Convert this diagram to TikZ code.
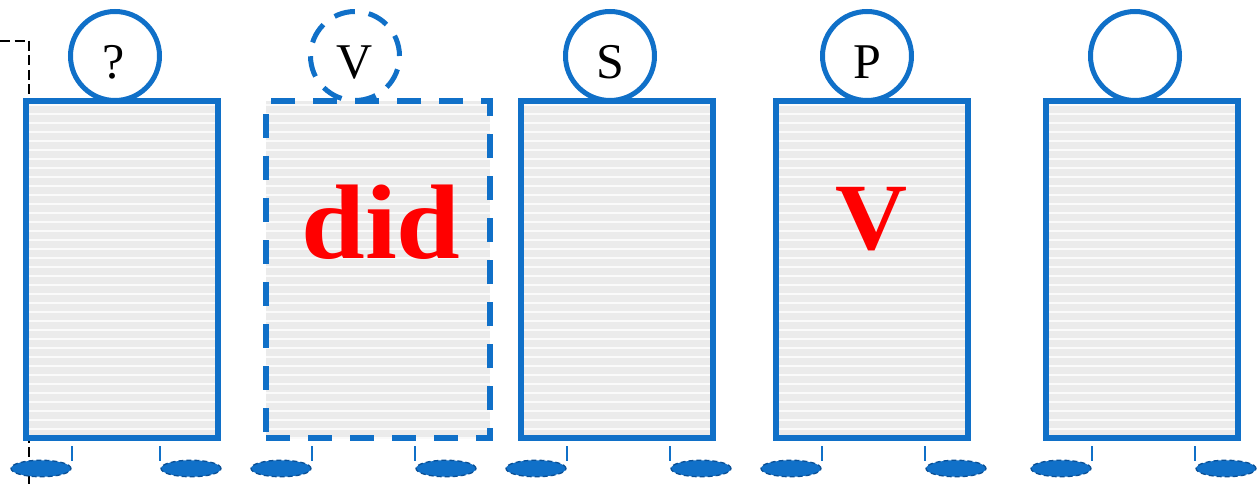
\documentclass[tikz,border=0pt]{standalone}
\usepackage{fontspec}
\setmainfont{Liberation Serif}
\newfontfamily\tms{Liberation Serif}
\usetikzlibrary{shapes.geometric}
\definecolor{bblue}{RGB}{16,112,200}
\definecolor{dblue}{RGB}{10,80,150}
\definecolor{stripegray}{RGB}{235,235,235}
\definecolor{stripelight}{RGB}{250,250,250}
\begin{document}
\begin{tikzpicture}[x=1pt,y=-1pt,
  circ/.style={circle,draw=bblue,line width=5pt,minimum size=89pt,inner sep=0pt,fill=white},
  dcirc/.style={circ,dash pattern=on 21pt off 14pt},
  stripebox/.style={rectangle,draw=bblue,line width=6pt,inner sep=0pt,minimum height=337pt,fill=stripegray,
    path picture={\foreach \k in {0,...,38}{\draw[solid,stripelight,line width=1.8pt] ([yshift=-4pt-\k*9pt]path picture bounding box.north west) -- ([yshift=-4pt-\k*9pt]path picture bounding box.north east);}}},
  dstripebox/.style={stripebox,dash pattern=on 24pt off 18pt},
  lbl/.style={font=\tms\fontsize{50}{50}\selectfont,inner sep=0pt,anchor=base},
  big/.style={text=red,inner sep=0pt,transform shape},
  foot/.style={ellipse,fill=bblue,draw=dblue,line width=1.3pt,dash pattern=on 5pt off 3pt,minimum width=60pt,minimum height=16.5pt,inner sep=0pt},
  tick/.style={draw=bblue,line width=1.8pt},
  guide/.style={draw=black,line width=1.5pt,dash pattern=on 10pt off 4.5pt}]
\useasboundingbox (0,0) rectangle (1259,484);
% dashed guide line
\coordinate (gs) at (0,41);
\coordinate (gc) at (29,41);
\coordinate (ge) at (29,490);
\draw[guide] (gs) -- (gc) -- (ge);
% circles
\node[circ] (c1) at (115,56) {};
\node[dcirc] (c2) at (355,56) {};
\node[circ] (c3) at (610,56) {};
\node[circ] (c4) at (867,56) {};
\node[circ] (c5) at (1135,56) {};
% boxes
\node[stripebox,minimum width=192pt] (b1) at (122,269.5) {};
\node[dstripebox,minimum width=224pt] (b2) at (378,269.5) {};
\node[stripebox,minimum width=192pt] (b3) at (617,269.5) {};
\node[stripebox,minimum width=192pt] (b4) at (872,269.5) {};
\node[stripebox,minimum width=192pt] (b5) at (1142,269.5) {};
% circle labels
\node[lbl] (t1) at (114,79) {?};
\node[lbl] (t2) at (355,79) {V};
\node[lbl] (t3) at (610,79) {S};
\node[lbl] (t4) at (867,79) {P};
% big red words
\node[big,xscale=1.08,font=\tms\bfseries\fontsize{106}{106}\selectfont] (w2) at (381,222) {did};
\node[big,xscale=1.05,font=\tms\bfseries\fontsize{95}{95}\selectfont] (w4) at (872,219) {V};
% feet
\foreach \n/\x in {f1a/41,f1b/191,f2a/281,f2b/446,f3a/536,f3b/701,f4a/791,f4b/956,f5a/1061,f5b/1226}{
  \node[foot] (\n) at (\x,468.5) {};
}
\foreach \n in {f1a,f2a,f3a,f4a,f5a}{
  \draw[tick] ([yshift=8pt]\n.east) -- ([yshift=22.5pt]\n.east);
}
\foreach \n in {f1b,f2b,f3b,f4b,f5b}{
  \draw[tick] ([yshift=8pt]\n.west) -- ([yshift=22.5pt]\n.west);
}
\end{tikzpicture}
\end{document}
